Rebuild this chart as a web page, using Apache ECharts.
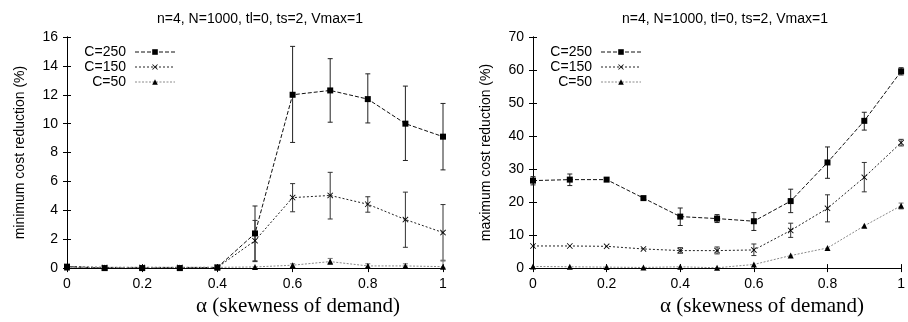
<!DOCTYPE html>
<html>
<head>
<meta charset="utf-8">
<script src="https://cdn.jsdelivr.net/npm/echarts@6/dist/echarts.min.js"></script>
<style>
  html, body { margin: 0; padding: 0; background: #fff; }
  #chart-container { width: 908px; height: 322px; }
</style>
</head>
<body>
<div id="chart-container"></div>
<script>
// x values (alpha, skewness of demand)
const alpha = [0, 0.1, 0.2, 0.3, 0.4, 0.5, 0.6, 0.7, 0.8, 0.9, 1];
const yTicksMin = [0, 16, 2];
const yTicksMax = [0, 70, 10];
const seriesNames = ["C=250", "C=150", "C=50"];
const titleText = "n=4, N=1000, tl=0, ts=2, Vmax=1";

// left plot: minimum cost reduction (%)
const minC250 = [0.1, 0.0, 0.0, 0.0, 0.05, 2.4, 12.0, 12.3, 11.7, 10.0, 9.1];
const minC250Low = [null, null, null, null, null, 0.5, 8.7, 10.1, 10.05, 7.45, 6.8];
const minC250High = [null, null, null, null, null, 4.3, 15.35, 14.5, 13.45, 12.6, 11.4];
const minC150 = [0.1, 0.05, 0.05, 0.05, 0.05, 1.9, 4.88, 5.03, 4.42, 3.36, 2.46];
const minC150Low = [null, null, null, null, null, 0.45, 3.9, 3.4, 3.87, 1.44, 0.5];
const minC150High = [null, null, null, null, null, 3.3, 5.85, 6.63, 4.94, 5.26, 4.4];
const minC50 = [0.05, 0.05, 0.05, 0.05, 0.05, 0.08, 0.2, 0.45, 0.15, 0.15, 0.1];
const minC50Low = [null, null, null, null, null, null, 0.05, 0.25, 0.05, 0.05, 0.0];
const minC50High = [null, null, null, null, null, null, 0.3, 0.67, 0.3, 0.3, 0.55];

// right plot: maximum cost reduction (%)
const maxC250 = [26.5, 26.8, 26.8, 21.2, 15.6, 15.0, 14.2, 20.3, 32.0, 44.6, 59.6];
const maxC250Low = [25.2, 25.0, null, null, 12.9, 13.8, 11.4, 16.8, 27.2, 41.8, 58.5];
const maxC250High = [27.7, 28.5, null, null, 18.2, 16.2, 16.8, 23.9, 36.7, 47.2, 60.7];
const maxC150 = [6.7, 6.7, 6.6, 5.8, 5.3, 5.3, 5.5, 11.4, 18.1, 27.5, 38.0];
const maxC150Low = [null, null, null, null, 4.5, 4.3, 3.8, 9.3, 14.0, 23.1, 37.0];
const maxC150High = [null, null, null, null, 6.2, 6.4, 7.3, 13.6, 22.2, 32.0, 39.0];
const maxC50 = [0.5, 0.4, 0.3, 0.2, 0.4, 0.1, 1.1, 3.8, 6.1, 12.8, 18.9];
const maxC50Low = [null, null, null, null, null, null, null, null, null, null, 17.9];
const maxC50High = [null, null, null, null, null, null, null, null, null, null, 19.7];

const SANS = "Liberation Sans";
const SERIF = "Liberation Serif";
const crossPath = "path://M0,1L1,0L5,4L9,0L10,1L6,5L10,9L9,10L5,6L1,10L0,9L4,5Z";

const styles = [
    { symbol: "rect", size: 6, line: "#111", dash: [4, 2], bar: "#222" },
    { symbol: crossPath, size: 6, line: "#222", dash: [2, 2], bar: "#333" },
    { symbol: "triangle", size: 6, line: "#8a8a8a", dash: [2, 1.5], bar: "#777" }
];

function pairs(ys) {
    return alpha.map((x, i) => [x, ys[i]]);
}
function errData(lo, hi) {
    const out = [];
    alpha.forEach((x, i) => {
        if (lo[i] !== null && hi[i] !== null) out.push([x, lo[i], hi[i]]);
    });
    return out;
}

function lineSeries(name, ys, st, gi) {
    return {
        name: name,
        type: "line",
        xAxisIndex: gi * 2,
        yAxisIndex: gi * 2,
        data: pairs(ys),
        symbol: st.symbol,
        symbolSize: st.size,
        showSymbol: true,
        showAllSymbol: true,
        itemStyle: { color: "#000" },
        lineStyle: { color: st.line, width: 1, type: st.dash },
        z: 3
    };
}
function errSeries(name, lo, hi, st, gi) {
    return {
        name: name,
        type: "custom",
        xAxisIndex: gi * 2,
        yAxisIndex: gi * 2,
        data: errData(lo, hi),
        encode: { x: 0, y: [1, 2] },
        z: 2,
        renderItem: function (params, api) {
            const x = api.value(0);
            const a = api.coord([x, api.value(1)]);
            const b = api.coord([x, api.value(2)]);
            const w = 2.5;
            const style = { stroke: st.bar, lineWidth: 1 };
            return {
                type: "group",
                children: [
                    { type: "line", shape: { x1: a[0], y1: a[1], x2: b[0], y2: b[1] }, style: style },
                    { type: "line", shape: { x1: a[0] - w, y1: a[1], x2: a[0] + w, y2: a[1] }, style: style },
                    { type: "line", shape: { x1: b[0] - w, y1: b[1], x2: b[0] + w, y2: b[1] }, style: style }
                ]
            };
        }
    };
}

function xAxes(gi, padLeft) {
    return [
        {
            type: "value", gridIndex: gi, min: 0, max: 1, interval: 0.2,
            axisLine: { show: true, lineStyle: { color: "#000", width: 1 } },
            axisTick: { show: true, inside: true, length: 4, lineStyle: { color: "#000" } },
            axisLabel: { show: true, color: "#000", fontSize: 14, fontFamily: SANS, margin: 9 },
            splitLine: { show: false },
            name: "α (skewness of demand)",
            nameLocation: "middle",
            nameGap: 26,
            nameTextStyle: { color: "#000", fontSize: 21, fontFamily: SERIF, padding: [0, 0, 0, padLeft] }
        },
        {
            type: "value", gridIndex: gi, min: 0, max: 1, interval: 0.2, position: "top",
            axisLine: { show: true, lineStyle: { color: "#000", width: 1 } },
            axisTick: { show: true, inside: true, length: 4, lineStyle: { color: "#000" } },
            axisLabel: { show: false },
            splitLine: { show: false }
        }
    ];
}
function yAxes(gi, ticks, name) {
    return [
        {
            type: "value", gridIndex: gi, min: ticks[0], max: ticks[1], interval: ticks[2],
            axisLine: { show: true, lineStyle: { color: "#000", width: 1 } },
            axisTick: { show: true, inside: true, length: 4, lineStyle: { color: "#000" } },
            axisLabel: { show: true, color: "#000", fontSize: 14, fontFamily: SANS, margin: 9 },
            splitLine: { show: false },
            name: name,
            nameLocation: "middle",
            nameGap: 40,
            nameTextStyle: { color: "#000", fontSize: 14, fontFamily: SANS }
        },
        {
            type: "value", gridIndex: gi, min: ticks[0], max: ticks[1], interval: ticks[2], position: "right",
            axisLine: { show: true, lineStyle: { color: "#000", width: 1 } },
            axisTick: { show: true, inside: true, length: 4, lineStyle: { color: "#000" } },
            axisLabel: { show: false },
            splitLine: { show: false }
        }
    ];
}
function legendAt(left) {
    return {
        data: seriesNames,
        orient: "vertical",
        left: left,
        top: 40,
        align: "right",
        itemWidth: 40,
        itemHeight: 7,
        itemGap: 1,
        selectedMode: false,
        lineStyle: { width: 1 },
        textStyle: { color: "#000", fontSize: 14, fontFamily: SANS, width: 50, align: "right", lineHeight: 14, padding: [0, 4, 0, 0] }
    };
}

const minSets = [[minC250, minC250Low, minC250High], [minC150, minC150Low, minC150High], [minC50, minC50Low, minC50High]];
const maxSets = [[maxC250, maxC250Low, maxC250High], [maxC150, maxC150Low, maxC150High], [maxC50, maxC50Low, maxC50High]];

const series = [];
[minSets, maxSets].forEach((sets, gi) => {
    sets.forEach((s, k) => {
        series.push(errSeries("err" + gi + k, s[1], s[2], styles[k], gi));
    });
    sets.forEach((s, k) => {
        series.push(lineSeries(seriesNames[k], s[0], styles[k], gi));
    });
});

const chart = echarts.init(document.getElementById("chart-container"), null, { renderer: "canvas" });
chart.setOption({
    animation: false,
    backgroundColor: "#fff",
    title: [
        { text: titleText, left: 255, top: 7, textAlign: "center", textStyle: { color: "#000", fontSize: 14, fontWeight: "normal", fontFamily: SANS } },
        { text: titleText, left: 720, top: 7, textAlign: "center", textStyle: { color: "#000", fontSize: 14, fontWeight: "normal", fontFamily: SANS } }
    ],
    legend: [legendAt(71), legendAt(537)],
    grid: [
        { left: 67, width: 376, top: 37, bottom: 48 },
        { left: 533, width: 378, top: 37, bottom: 48 }
    ],
    xAxis: xAxes(0, 86).concat(xAxes(1, 90)),
    yAxis: yAxes(0, yTicksMin, "minimum cost reduction (%)").concat(yAxes(1, yTicksMax, "maximum cost reduction (%)")),
    series: series
});
</script>
</body>
</html>
